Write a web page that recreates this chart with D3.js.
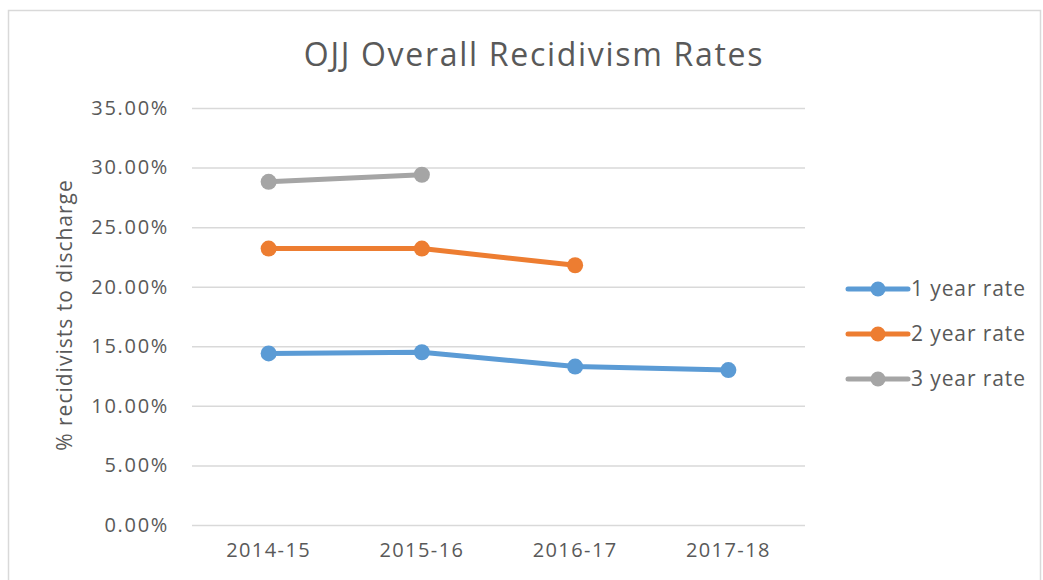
<!doctype html>
<html lang="en">
<head>
<meta charset="utf-8">
<style>
  body { margin: 0; background: #fff; }
  svg text { font-family: "Open Sans", Lato, sans-serif; fill: #595959; }
</style>
</head>
<body>
<svg width="1043" height="580"></svg>
<script src="https://d3js.org/d3.v7.min.js"></script>
<script>
var years = ["2014-15", "2015-16", "2016-17", "2017-18"];
var oneYear = [14.4, 14.5, 13.3, 13.0];
var twoYear = [23.2, 23.2, 21.8];
var threeYear = [28.8, 29.4];
var yTicks = [0, 5, 10, 15, 20, 25, 30, 35];

var series = [
  { name: "1 year rate", values: oneYear, color: "#5B9BD5" },
  { name: "2 year rate", values: twoYear, color: "#ED7D31" },
  { name: "3 year rate", values: threeYear, color: "#A5A5A5" }
];

var svg = d3.select("svg");

// chart frame
svg.append("path")
    .attr("d", "M8.5,580V10.5H1040.5V580")
    .attr("fill", "none")
    .attr("stroke", "#d9d9d9")
    .attr("stroke-width", 1.5);

var x = d3.scaleBand().domain(years).range([192, 805]);
var y = d3.scaleLinear().domain([0, 35]).range([525, 108]);

svg.append("text")
    .attr("x", 534).attr("y", 66)
    .attr("text-anchor", "middle")
    .style("font-size", "32px")
    .style("letter-spacing", "1.7px")
    .text("OJJ Overall Recidivism Rates");

// gridlines
svg.append("g").selectAll("line").data(yTicks).join("line")
    .attr("x1", 192).attr("x2", 805)
    .attr("y1", function(d) { return y(d) + 0.5; })
    .attr("y2", function(d) { return y(d) + 0.5; })
    .attr("stroke", "#d9d9d9")
    .attr("stroke-width", 1.5);

var yAxis = svg.append("g")
    .attr("transform", "translate(181,0)")
    .call(d3.axisLeft(y).tickValues(yTicks).tickSize(0).tickPadding(12)
        .tickFormat(function(d) { return d.toFixed(2) + "%"; }));
yAxis.select(".domain").remove();
yAxis.selectAll("text").style("font-size", "20px").style("font-family", null)
    .style("letter-spacing", "1.7px").attr("fill", "#595959");

var xAxis = svg.append("g")
    .attr("transform", "translate(0,537)")
    .call(d3.axisBottom(x).tickSize(0).tickPadding(6));
xAxis.select(".domain").remove();
xAxis.selectAll("text").style("font-size", "20px").style("font-family", null)
    .style("letter-spacing", "1.4px").attr("fill", "#595959");

svg.append("text")
    .attr("transform", "translate(72,315) rotate(-90)")
    .attr("text-anchor", "middle")
    .style("font-size", "21px")
    .style("letter-spacing", "1px")
    .text("% recidivists to discharge");

var line = d3.line()
    .x(function(d, i) { return x(years[i]) + x.bandwidth() / 2; })
    .y(function(d) { return y(d); });

series.forEach(function(s) {
  var g = svg.append("g");
  g.append("path")
      .attr("d", line(s.values))
      .attr("fill", "none")
      .attr("stroke", s.color)
      .attr("stroke-width", 5)
      .attr("stroke-linecap", "round");
  g.selectAll("circle").data(s.values).join("circle")
      .attr("cx", function(d, i) { return x(years[i]) + x.bandwidth() / 2; })
      .attr("cy", function(d) { return y(d); })
      .attr("r", 8)
      .attr("fill", s.color);
});

// legend
var legend = svg.append("g").selectAll("g").data(series).join("g")
    .attr("transform", function(d, i) { return "translate(848," + (289 + i * 45) + ")"; });
legend.append("line")
    .attr("x1", 0).attr("x2", 60)
    .attr("stroke", function(d) { return d.color; })
    .attr("stroke-width", 5)
    .attr("stroke-linecap", "round");
legend.append("circle")
    .attr("cx", 30).attr("r", 7.5)
    .attr("fill", function(d) { return d.color; });
legend.append("text")
    .attr("x", 63).attr("dy", "0.35em")
    .style("font-size", "21px")
    .style("letter-spacing", "0.9px")
    .text(function(d) { return d.name; });
</script>
</body>
</html>
